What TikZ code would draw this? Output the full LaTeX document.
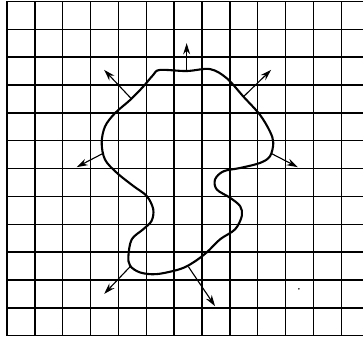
\documentclass[tikz,border=0pt]{standalone}
\usetikzlibrary{arrows.meta}
\begin{document}
\begin{tikzpicture}[x=0.7cm,y=0.7cm,>={Stealth[length=8pt,width=5pt]},
  gridline/.style={line width=1pt},
  outflow/.style={->,line width=0.8pt}]
  \useasboundingbox(-0.25,-0.15)rectangle(12.78,12.05);
  % squared paper
  \foreach \i in {0,...,12}{
    \draw[gridline](\i,0)--(\i,12);
    \draw[gridline](0,\i)--(12.78,\i);
  }
  % the closed surface
  \draw[line width=1.5pt]plot[smooth cycle,tension=0.55]coordinates{
    (5.49,9.54)(6.45,9.50)(7.29,9.57)(7.89,9.24)(8.49,8.58)(9.08,7.93)
    (9.44,7.33)(9.56,6.92)(9.44,6.44)(9.08,6.20)(8.37,6.02)(7.77,5.90)
    (7.47,5.61)(7.53,5.25)(8.01,4.95)(8.37,4.65)(8.43,4.30)(8.19,3.82)
    (7.65,3.46)(7.17,2.99)(6.69,2.63)(6.21,2.39)(5.37,2.21)(4.78,2.27)
    (4.42,2.51)(4.36,2.87)(4.48,3.46)(4.89,3.82)(5.19,4.12)(5.25,4.54)
    (5.02,5.01)(4.54,5.37)(3.94,5.85)(3.52,6.32)(3.40,6.92)(3.52,7.51)
    (3.88,7.99)(4.42,8.46)(4.89,8.94)(5.25,9.36)};
  % outward arrows
  \coordinate(top) at (6.45,9.50);
  \coordinate(topend) at (6.45,10.5);
  \coordinate(ul) at (4.48,8.49);
  \coordinate(ulend) at (3.49,9.54);
  \coordinate(ur) at (8.49,8.58);
  \coordinate(urend) at (9.48,9.54);
  \coordinate(left) at (3.44,6.54);
  \coordinate(leftend) at (2.50,6.05);
  \coordinate(right) at (9.49,6.54);
  \coordinate(rightend) at (10.44,6.05);
  \coordinate(ll) at (4.46,2.52);
  \coordinate(llend) at (3.49,1.50);
  \coordinate(lr) at (6.51,2.48);
  \coordinate(lrend) at (7.47,1.06);
  \draw[outflow](top)--(topend);
  \draw[outflow](ul)--(ulend);
  \draw[outflow](ur)--(urend);
  \draw[outflow](left)--(leftend);
  \draw[outflow](right)--(rightend);
  \draw[outflow](ll)--(llend);
  \draw[outflow](lr)--(lrend);
  \fill(10.48,1.68)circle(0.6pt);
\end{tikzpicture}
\end{document}
